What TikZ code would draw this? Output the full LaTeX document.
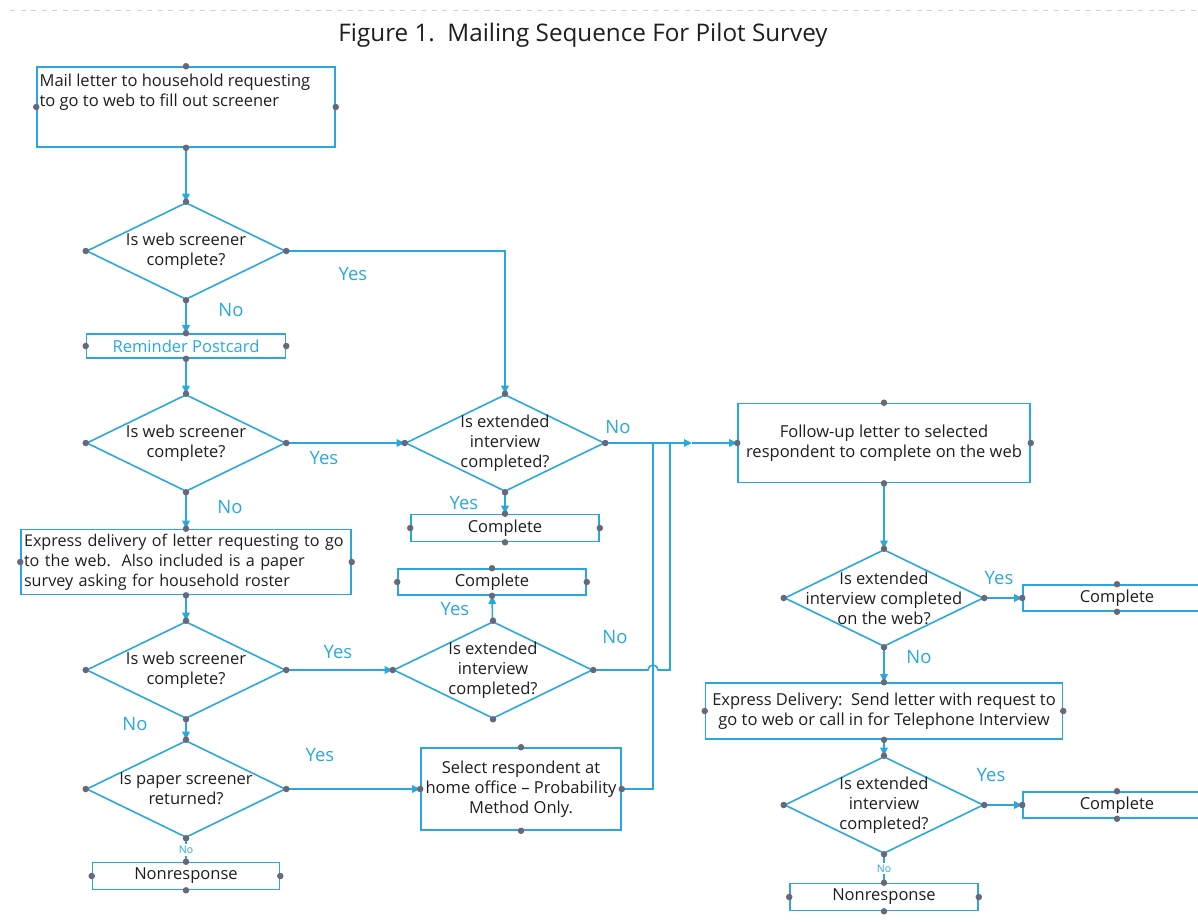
\documentclass[tikz,border=0pt]{standalone}
\usepackage{fontspec}
\setmainfont{Open Sans}
\usetikzlibrary{shapes.geometric,arrows.meta}
\definecolor{flowblue}{RGB}{41,168,224}
\definecolor{pingray}{RGB}{104,104,122}
\definecolor{txtgray}{RGB}{30,30,30}
\newcommand{\bodyfont}{\fontsize{9.4}{11.4}\selectfont}
\newcommand{\answerfont}{\fontsize{10.5}{12}\selectfont}
\tikzset{
  box/.style={draw=flowblue, line width=0.9pt, rectangle, inner sep=2pt, text=txtgray, font=\bodyfont, align=center},
  decision/.style={draw=flowblue, line width=0.9pt, diamond, inner sep=0pt, minimum width=3.98cm, minimum height=1.94cm},
  asks/.style={text=txtgray, font=\bodyfont, align=center, inner sep=0pt},
  flow/.style={draw=flowblue, line width=0.9pt, -{Triangle[length=1.6mm,width=1.5mm]}},
  link/.style={draw=flowblue, line width=0.9pt},
  answer/.style={text=flowblue, font=\answerfont, inner sep=0pt},
  tinyanswer/.style={text=flowblue, font=\fontsize{6}{7}\selectfont, fill=white, inner sep=1pt},
}
\begin{document}
\begin{tikzpicture}[x=0.02cm, y=-0.02cm]
    \useasboundingbox (0,0) rectangle (1198,921);
    \draw [gray!35, dashed] (10,10) -- (1198,10);
    \node [font=\fontsize{13.8}{16}\selectfont, text=txtgray] (title) at (583,35) {Figure 1.\ \ Mailing Sequence For Pilot Survey};

    % left column
    \node [box, minimum width=5.96cm, minimum height=1.6cm,
      label={[asks, align=left, anchor=north west, xshift=0.06cm, yshift=-0.14cm]north west:Mail letter to household requesting\\to go to web to fill out screener}] (mail) at (186,107) {};
    \node [decision, label={[asks]center:Is web screener\\complete?}] (scr1) at (186,251) {};
    \node [box, text=flowblue, minimum width=3.98cm, minimum height=0.48cm, inner sep=0pt] (remind) at (186,346) {Reminder Postcard};
    \node [decision, label={[asks]center:Is web screener\\complete?}] (scr2) at (186,443) {};
    \node [box, minimum width=6.6cm, minimum height=1.3cm, text width=6.48cm, align=left, inner sep=1pt,
      font=\fontsize{9.2}{11.4}\selectfont] (express) at (186,562) {Express delivery of letter requesting to go\\to the web.\ \ Also included is a paper\\survey asking for household roster};
    \node [decision, label={[asks]center:Is web screener\\complete?}] (scr3) at (186,670) {};
    \node [decision, label={[asks]center:Is paper screener\\returned?}] (paper) at (186,789) {};
    \node [box, minimum width=3.74cm, minimum height=0.54cm, inner sep=0pt] (nonresp) at (186,876) {Nonresponse};

    % middle column
    \node [decision, label={[asks]center:Is extended\\interview\\completed?}] (ext1) at (505,443) {};
    \node [box, minimum width=3.76cm, minimum height=0.54cm, inner sep=0pt] (done1) at (505,528) {Complete};
    \node [box, minimum width=3.76cm, minimum height=0.52cm, inner sep=0pt] (done2) at (492,582) {Complete};
    \node [decision, label={[asks]center:Is extended\\interview\\completed?}] (ext2) at (493,670) {};
    \node [box, minimum width=4cm, minimum height=1.64cm] (select) at (521,789) {Select respondent at\\home office -- Probability\\Method Only.};

    % right column
    \node [box, minimum width=5.84cm, minimum height=1.58cm] (followup) at (884,443) {Follow-up letter to selected\\respondent to complete on the web};
    \node [decision, label={[asks]center:Is extended\\interview completed\\on the web?}] (webext) at (884,598) {};
    \node [box, minimum width=3.76cm, minimum height=0.52cm, inner sep=0pt] (done3) at (1117,598) {Complete};
    \node [box, minimum width=7.14cm, minimum height=1.12cm] (expr2) at (884,711) {Express Delivery:\ \ Send letter with request to\\go to web or call in for Telephone Interview};
    \node [decision, label={[asks]center:Is extended\\interview\\completed?}] (ext3) at (884,805) {};
    \node [box, minimum width=3.76cm, minimum height=0.52cm, inner sep=0pt] (done4) at (1117,805) {Complete};
    \node [box, minimum width=3.76cm, minimum height=0.54cm, inner sep=0pt] (nonresp2) at (884,897) {Nonresponse};

    \coordinate (merge) at (692,443);
    \coordinate (busA) at (653,443);
    \coordinate (busB) at (670,443);

    % connectors
    \draw [flow] (mail) -- (scr1);
    \draw [flow] (scr1) -- (remind);
    \draw [flow] (scr1.east) -| (ext1.north);
    \draw [flow] (remind) -- (scr2);
    \draw [flow] (scr2.east) -- (ext1.west);
    \draw [flow] (scr2) -- (express);
    \draw [flow] (express) -- (scr3);
    \draw [flow] (scr3.east) -- (ext2.west);
    \draw [flow] (scr3) -- (paper);
    \draw [flow] (paper.east) -- (select.west);
    \draw [link] (paper) -- node [tinyanswer] (no8) {No} (nonresp);
    \draw [flow] (ext1) -- (done1);
    \draw [flow] (ext2) -- (done2);
    \draw [flow] (ext1.east) -- (merge);
    \draw [flow] (merge) -- (followup.west);
    \draw [link] (select.east) -| (busA);
    \draw [link] (ext2.east) -- (648,670) arc [start angle=180, end angle=0, radius=0.1cm] -| (busB);
    \draw [flow] (followup) -- (webext);
    \draw [flow] (webext.east) -- (done3.west);
    \draw [flow] (webext) -- (expr2);
    \draw [flow] (expr2) -- (ext3);
    \draw [flow] (ext3.east) -- (done4.west);
    \draw [link] (ext3) -- node [tinyanswer] (no16) {No} (nonresp2);

    % answers
    \node [answer] (yes1) at (353,274) {Yes};
    \node [answer] (no1) at (231,310) {No};
    \node [answer] (yes2) at (324,458) {Yes};
    \node [answer] (no2) at (230,507) {No};
    \node [answer] (yes3) at (338,652) {Yes};
    \node [answer] (no3) at (135,724) {No};
    \node [answer] (yes4) at (320,755) {Yes};
    \node [answer] (yes5) at (464,503) {Yes};
    \node [answer] (no5) at (618,427) {No};
    \node [answer] (yes6) at (455,609) {Yes};
    \node [answer] (no6) at (615,637) {No};
    \node [answer] (yes7) at (999,578) {Yes};
    \node [answer] (no7) at (919,657) {No};
    \node [answer] (yes8) at (991,775) {Yes};

    % connection points
    \foreach \n in {mail,scr1,remind,scr2,express,scr3,paper,nonresp,ext1,done1,done2,ext2,select,followup,webext,done3,expr2,ext3,done4,nonresp2}
      \foreach \a in {north,south,east,west}
        \fill [pingray] (\n.\a) circle (0.065cm);
\end{tikzpicture}
\end{document}
